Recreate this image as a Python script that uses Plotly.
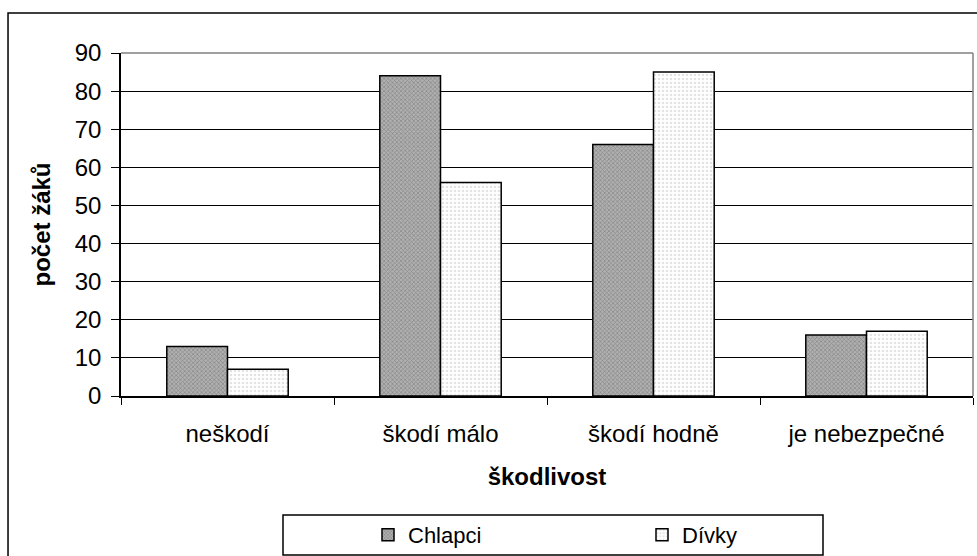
import plotly.graph_objects as go

categories = ["neškodí", "škodí málo", "škodí hodně", "je nebezpečné"]
chlapci = [13, 84, 66, 16]
divky = [7, 56, 85, 17]
y_ticks = [0, 10, 20, 30, 40, 50, 60, 70, 80, 90]

FONT = "Liberation Sans, Arial, sans-serif"

fig = go.Figure()
fig.add_trace(go.Bar(
    name="Chlapci", x=categories, y=chlapci,
    marker=dict(color="#8a8a8a",
                line=dict(color="#000000", width=1.5),
                pattern=dict(shape="x", fgcolor="#5a5a5a", bgcolor="#b0b0b0",
                             size=3, solidity=0.4)),
))
fig.add_trace(go.Bar(
    name="Dívky", x=categories, y=divky,
    marker=dict(color="#f4f4f4",
                line=dict(color="#000000", width=1.5),
                pattern=dict(shape=".", fgcolor="#c8c8c8", bgcolor="#ffffff",
                             size=4, solidity=0.35)),
))

fig.update_layout(
    width=977, height=556,
    margin=dict(l=121, r=4, t=53, b=160, autoexpand=False),
    paper_bgcolor="white", plot_bgcolor="white",
    barmode="group", bargap=0.43, bargroupgap=0,
    font=dict(family=FONT, size=24, color="#000000"),
    showlegend=True,
    legend=dict(orientation="h", x=(368 - 121) / 852, xanchor="left",
                y=-0.405, yanchor="middle",
                entrywidth=229, entrywidthmode="pixels",
                font=dict(family=FONT, size=22), borderwidth=0,
                bgcolor="rgba(0,0,0,0)", traceorder="normal"),
    xaxis=dict(
        showline=True, linecolor="#000000", linewidth=1.5,
        ticks="outside", ticklen=7, tickcolor="#000000", tickson="boundaries",
        showgrid=False, ticklabelstandoff=15,
        tickfont=dict(family=FONT, size=24),
        title=dict(text="<b>škodlivost</b>", font=dict(family=FONT, size=24), standoff=23),
    ),
    yaxis=dict(
        range=[0, 90], tickvals=y_ticks,
        showline=True, linecolor="#000000", linewidth=1.5,
        ticks="outside", ticklen=8, tickcolor="#000000",
        showgrid=True, gridcolor="#000000", gridwidth=1.3,
        zeroline=False, ticklabelstandoff=5,
        tickfont=dict(family=FONT, size=24),
        title=dict(text="<b>počet žáků</b>", font=dict(family=FONT, size=24), standoff=17),
    ),
    shapes=[
        # outer chart frame
        dict(type="rect", xref="paper", yref="paper",
             x0=-0.1326, x1=1.02, y0=-0.6, y1=1.1166,
             line=dict(color="#000000", width=1.5), fillcolor="rgba(0,0,0,0)", layer="above"),
        # plot area border on top and right
        dict(type="line", xref="paper", yref="paper", x0=0, x1=1, y0=1, y1=1,
             line=dict(color="#808080", width=1.5), layer="above"),
        dict(type="line", xref="paper", yref="paper", x0=1, x1=1, y0=0, y1=1,
             line=dict(color="#808080", width=1.5), layer="above"),
        # legend box
        dict(type="rect", xref="paper", yref="paper",
             x0=(283 - 121) / 852, x1=(823 - 121) / 852,
             y0=(396 - 555) / 343, y1=(396 - 515) / 343,
             line=dict(color="#000000", width=1.5), fillcolor="rgba(0,0,0,0)", layer="above"),
    ],
)

fig.write_html("out.html")
